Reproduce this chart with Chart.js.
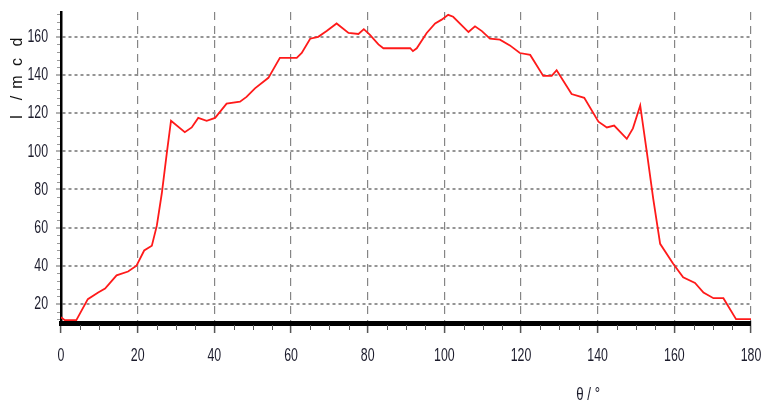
<!DOCTYPE html>
<html>
<head>
<meta charset="utf-8">
<script src="https://cdn.jsdelivr.net/npm/chart.js@4"></script>
<style>
  body { margin: 0; background: #fff; }
  #wrap { width: 764px; height: 408px; position: relative; }
</style>
</head>
<body>
<div id="wrap"><canvas id="lumChart"></canvas></div>
<script>
// angle (deg) and luminous intensity (mcd)
let angleDeg = [0, 1, 4, 7, 9.7, 11.5, 14.5, 17.5, 19.7, 21.7, 23.7, 25, 26.3, 27.6, 28.7,
  32.3, 34.1, 35.8, 38, 40.2, 43.2, 46.7, 48.4, 50.6, 54.1, 57.1, 61.5, 62.8, 65, 67.1,
  69.3, 71.9, 75, 77.6, 79, 80.6, 82.8, 84.1, 91.1, 91.8, 92.8, 95.4, 97.6, 99.3, 101,
  102.3, 106.3, 108, 109.8, 111.9, 114.5, 117.1, 119.7, 122.4, 125.8, 128, 129.3, 133.2,
  136.5, 140.2, 142.4, 144.3, 147.6, 149.2, 151.1, 152.9, 154.5, 156.3, 159.7, 162.3,
  165.4, 167.6, 170.2, 172.8, 176.1, 180];
let intensity = [13, 11.5, 11.5, 22.5, 26, 28, 35, 37, 40, 48, 50.5, 61, 78, 99, 116,
  110, 112.5, 117.5, 116, 117.5, 125, 126, 128.5, 133, 138.5, 149, 149, 151.5, 159, 160,
  163, 167, 162, 161.5, 164, 161, 156, 154, 154, 152.5, 154, 162, 167, 169, 171.5,
  170.5, 162.5, 165.5, 163, 159, 158.5, 155.5, 151.5, 150.5, 139.5, 139.5, 142.5, 130,
  128, 115.5, 112.5, 113.5, 106.5, 112, 124, 98.5, 75, 51.5, 41, 34,
  31, 26, 23, 23, 12, 12];

let xTicks = [0, 20, 40, 60, 80, 100, 120, 140, 160, 180];
let yTicks = [20, 40, 60, 80, 100, 120, 140, 160];
let xMinorStep = 5;
let yMinorStep = 4;

const sans = '"Liberation Sans", Arial, sans-serif';

// narrow tick labels, minor tick marks, axis titles
const extras = {
  id: 'extras',
  afterDraw(chart) {
    const c = chart.ctx, a = chart.chartArea;
    const xs = chart.scales.x, ys = chart.scales.y;
    c.save();
    c.strokeStyle = '#555';
    c.lineWidth = 1;
    for (let v = xs.min + xMinorStep; v < xs.max; v += xMinorStep) {
      if (v % 20 === 0) continue;
      const px = Math.round(xs.getPixelForValue(v)) + 0.5;
      c.beginPath(); c.moveTo(px, a.bottom + 2); c.lineTo(px, a.bottom + 7); c.stroke();
    }
    c.strokeStyle = '#999';
    for (let v = 12; v < ys.max; v += yMinorStep) {
      if (v % 20 === 0) continue;
      const py = Math.round(ys.getPixelForValue(v)) + 0.5;
      c.beginPath(); c.moveTo(a.left - 4, py); c.lineTo(a.left - 1, py); c.stroke();
    }

    c.fillStyle = '#1c1c2c';
    c.font = '19px ' + sans;
    c.textBaseline = 'middle';
    // x tick labels
    c.textAlign = 'center';
    xs.ticks.forEach(t => {
      c.save();
      c.translate(xs.getPixelForValue(t.value), a.bottom + 33);
      c.scale(0.65, 1);
      c.fillText(String(t.value), 0, 0);
      c.restore();
    });
    // y tick labels
    c.textAlign = 'right';
    ys.ticks.forEach(t => {
      c.save();
      c.translate(a.left - 13, ys.getPixelForValue(t.value));
      c.scale(0.65, 1);
      c.fillText(String(t.value), 0, 0);
      c.restore();
    });

    // y title, letters spread out vertically
    c.fillStyle = '#111';
    c.font = '16px ' + sans;
    c.textAlign = 'center';
    const letters = ['I', '/', 'm', 'c', 'd'];
    const offs = [105, 86, 70, 50, 30];
    letters.forEach((ch, i) => {
      c.save();
      c.translate(18, a.top + offs[i]);
      c.rotate(-Math.PI / 2);
      c.fillText(ch, 0, 0);
      c.restore();
    });
    // x title
    c.fillStyle = '#1c1c2c';
    c.font = '19px ' + sans;
    c.save();
    c.translate(xs.getPixelForValue(137.5), 395);
    c.scale(0.7, 1);
    c.fillText('θ / °', 0, 0);
    c.restore();
    c.restore();
  }
};

let ctx = document.getElementById('lumChart').getContext('2d');

let lumChart = new Chart(ctx, {
  type: 'line',
  data: {
    datasets: [{
      data: angleDeg.map((a, i) => ({ x: a, y: intensity[i] })),
      borderColor: '#ff1a1a',
      borderWidth: 1.8,
      pointRadius: 0,
      tension: 0,
      fill: false
    }]
  },
  options: {
    responsive: true,
    maintainAspectRatio: false,
    animation: false,
    layout: { padding: { left: 11, top: 12, right: 13, bottom: 0 } },
    plugins: { legend: { display: false }, tooltip: { enabled: false } },
    scales: {
      x: {
        type: 'linear',
        min: 0,
        max: 180,
        afterBuildTicks: s => { s.ticks = xTicks.map(v => ({ value: v })); },
        afterFit: s => { s.height = 85; },
        ticks: { display: false },
        grid: {
          color: c => c.tick && c.tick.value === 0 ? 'transparent' : '#858585',
          lineWidth: 1.2,
          tickLength: 10,
          tickColor: '#555',
          tickWidth: 1.5
        },
        border: { color: '#000', width: 5, dash: [8, 6] }
      },
      y: {
        min: 10,
        max: 173,
        afterBuildTicks: s => { s.ticks = yTicks.map(v => ({ value: v })); },
        afterFit: s => { s.width = 50; },
        ticks: { display: false },
        grid: {
          color: '#959595',
          lineWidth: 2,
          tickLength: 5,
          tickColor: '#999',
          tickWidth: 1.5
        },
        border: { color: '#000', width: 2.5, dash: [3, 3] }
      }
    }
  },
  plugins: [extras]
});
</script>
</body>
</html>
